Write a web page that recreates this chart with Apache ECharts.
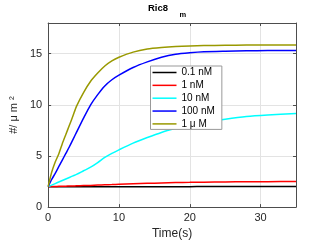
<!DOCTYPE html>
<html>
<head>
<meta charset="utf-8">
<script src="https://cdn.jsdelivr.net/npm/echarts@6/dist/echarts.min.js"></script>
<style>
html,body{margin:0;padding:0;background:#fff;}
#c{width:327px;height:245px;}
</style>
</head>
<body>
<div id="c"></div>
<script>
// Data
var time = [0,0.5,1,1.5,2,2.5,3,3.5,4,5,6,7,8,9,10,12,14,16,18,20,22,25,28,31,35];
var seriesNames = ['0.1 nM','1 nM','10 nM','100 nM','1 \u03bc M'];
var conc01nM = [2,2,2,2,2,2,2,2,2,2,2,2,2,2,2,2,2,2,2,2,2.01,2.01,2.01,2.01,2.01];
var conc1nM = [2,2.01,2.02,2.03,2.04,2.05,2.06,2.07,2.08,2.1,2.12,2.15,2.18,2.2,2.23,2.28,2.32,2.36,2.4,2.42,2.44,2.46,2.48,2.49,2.5];
var conc10nM = [2,2.15,2.3,2.45,2.6,2.75,2.9,3.05,3.2,3.55,3.9,4.35,4.85,5.25,5.6,6.25,6.8,7.3,7.7,8.05,8.3,8.6,8.85,9.0,9.15];
var conc100nM = [2,2.7,3.3,3.95,4.6,5.25,5.9,6.6,7.3,8.7,10.0,11.0,11.85,12.45,12.9,13.65,14.2,14.65,14.95,15.1,15.2,15.25,15.28,15.3,15.3];
var conc1uM = [2,3.4,4.4,5.2,6.2,7.1,8.0,8.9,9.85,11.2,12.3,13.1,13.8,14.3,14.65,15.15,15.45,15.6,15.7,15.76,15.79,15.82,15.84,15.85,15.85];
var seriesValues = [conc01nM, conc1nM, conc10nM, conc100nM, conc1uM];
var seriesColors = ['#000000','#ff0000','#00ffff','#0000ff','#999900'];
var xTicks = {min:0, max:35, interval:10};
var yTicks = {min:0, max:18, interval:5};

var font = 'Liberation Sans, Arial, Helvetica, sans-serif';
var axisColor = '#4d4d4d';
var textColor = '#262626';

function pairs(vals){
  return time.map(function(t,i){ return [t, vals[i]]; });
}

var series = seriesNames.map(function(name, i){
  return {
    name: name,
    type: 'line',
    data: pairs(seriesValues[i]),
    symbol: 'none',
    smooth: 0.25,
    lineStyle: {color: seriesColors[i], width: 1.5},
    itemStyle: {color: seriesColors[i]},
    xAxisIndex: 0,
    yAxisIndex: 0
  };
});

var chart = echarts.init(document.getElementById('c'), null, {renderer:'canvas'});
chart.setOption({
  animation: false,
  backgroundColor: '#ffffff',
  title: [
    {text: 'Ric8', left: 148, top: 3, padding: 0,
     textStyle: {fontFamily: font, fontSize: 9.5, fontWeight: 'bold', color: '#000'}},
    {text: 'm', left: 179.5, top: 11, padding: 0,
     textStyle: {fontFamily: font, fontSize: 7.5, fontWeight: 'bold', color: '#000'}}
  ],
  grid: {left: 42, right: 31, top: 23, bottom: 35, containLabel: false},
  legend: {
    left: 150.5, top: 66,
    orient: 'vertical',
    backgroundColor: '#ffffff',
    borderColor: '#999999',
    borderWidth: 1,
    borderRadius: 0,
    padding: [1, 7, 0, 2],
    icon: 'rect',
    itemWidth: 24,
    itemHeight: 1.5,
    itemGap: 1.85,
    textStyle: {fontFamily: font, fontSize: 10, color: '#000', lineHeight: 11},
    data: seriesNames
  },
  xAxis: [
    {
      type: 'value', position: 'bottom',
      min: xTicks.min, max: xTicks.max, interval: xTicks.interval,
      name: 'Time(s)', nameLocation: 'middle', nameGap: 20,
      nameTextStyle: {fontFamily: font, fontSize: 12, color: textColor},
      axisLine: {show: true, onZero: false, lineStyle: {color: axisColor, width: 1}},
      axisTick: {show: true, inside: true, length: 3, lineStyle: {color: axisColor}},
      axisLabel: {fontFamily: font, fontSize: 11, color: textColor, margin: 5, showMaxLabel: false},
      splitLine: {show: true, lineStyle: {color: '#e3e3e3', width: 1}}
    },
    {
      type: 'value', position: 'top',
      min: xTicks.min, max: xTicks.max, interval: xTicks.interval,
      axisLine: {show: true, onZero: false, lineStyle: {color: axisColor, width: 1}},
      axisTick: {show: true, inside: true, length: 3, lineStyle: {color: axisColor}},
      axisLabel: {show: false},
      splitLine: {show: false}
    }
  ],
  yAxis: [
    {
      type: 'value', position: 'left',
      min: yTicks.min, max: yTicks.max, interval: yTicks.interval,
      name: '#/ \u03bc m \u00b2', nameLocation: 'middle', nameGap: 24,
      nameTextStyle: {fontFamily: font, fontSize: 11, color: textColor},
      axisLine: {show: true, onZero: false, lineStyle: {color: axisColor, width: 1}},
      axisTick: {show: true, inside: true, length: 3, lineStyle: {color: axisColor}},
      axisLabel: {fontFamily: font, fontSize: 11, color: textColor, margin: 6, showMaxLabel: false},
      splitLine: {show: true, lineStyle: {color: '#e3e3e3', width: 1}}
    },
    {
      type: 'value', position: 'right',
      min: yTicks.min, max: yTicks.max, interval: yTicks.interval,
      axisLine: {show: true, onZero: false, lineStyle: {color: axisColor, width: 1}},
      axisTick: {show: true, inside: true, length: 3, lineStyle: {color: axisColor}},
      axisLabel: {show: false},
      splitLine: {show: false}
    }
  ],
  series: series
});
</script>
</body>
</html>
